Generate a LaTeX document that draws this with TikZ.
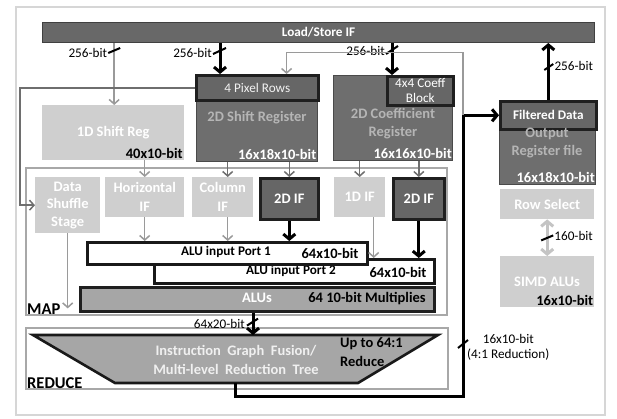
\documentclass[tikz,border=0pt]{standalone}
\usepackage{fontspec}
\setmainfont{Carlito}
\usetikzlibrary{arrows.meta,calc}
\definecolor{darkC}{HTML}{6E6E6E}
\definecolor{darkE}{HTML}{4A4A4A}
\definecolor{hotC}{HTML}{666666}
\definecolor{liteC}{HTML}{CFCFCF}
\definecolor{aluC}{HTML}{A6A6A6}
\definecolor{grpC}{HTML}{A8A8A8}
\definecolor{frameC}{HTML}{D6D6D6}
\definecolor{dimT}{HTML}{B5B5B5}
\definecolor{arrC}{HTML}{9A9A9A}
\definecolor{arrD}{HTML}{6E6E6E}
\definecolor{dblC}{HTML}{C4C4C4}
\newcommand\mkbox[6]{\node[#6, anchor=north west, inner sep=0pt, minimum width={#4pt-#2pt}, minimum height={#5pt-#3pt}] (#1) at (#2,#3) {};}
\begin{document}
\begin{tikzpicture}[x=1pt,y=-1pt,
  tb/.style={font=\bfseries\fontsize{14.5}{17.5}\selectfont, inner sep=0pt, align=center},
  tbs/.style={font=\bfseries\fontsize{13.2}{16}\selectfont, inner sep=0pt, align=center},
  tbig/.style={font=\bfseries\fontsize{16.5}{18}\selectfont, inner sep=0pt},
  tr/.style={font=\fontsize{13.2}{15}\selectfont, inner sep=0pt, align=center},
  lite/.style={fill=liteC, draw=none},
  dark/.style={fill=darkC, draw=darkE, line width=1pt},
  hot/.style={fill=hotC, draw=black!88, line width=2.6pt},
  port/.style={fill=white, draw=black!90, line width=2.6pt},
  grp/.style={draw=grpC, line width=1.5pt, fill=white},
  garr/.style={draw=arrC, line width=1.5pt, -{Straight Barb[length=4.5pt,width=10pt]}},
  darr/.style={draw=arrD, line width=1.5pt, -{Straight Barb[length=4.5pt,width=10pt]}},
  barr/.style={draw=black, line width=3pt, -{Straight Barb[length=5pt,width=12pt]}},
  bline/.style={draw=black, line width=3pt},
  gline/.style={draw=arrC, line width=1.5pt},
  dline/.style={draw=arrD, line width=1.5pt},
  slash/.style={draw=black, line width=2pt},
  dblarr/.style={draw=dblC, line width=3pt, {Straight Barb[length=5pt,width=12pt]}-{Straight Barb[length=5pt,width=12pt]}}
]
\useasboundingbox (0,0) rectangle (617,418);
% frame
\mkbox{frame}{15}{6}{604}{414}{draw=frameC, line width=2pt, fill=white}
% group boxes
\mkbox{map}{25}{167}{446}{314}{grp}
\mkbox{red}{25}{327}{447}{388}{grp}
% top bar
\mkbox{ls}{42}{22}{594}{42}{dark, fill=darkC!95!black, draw=black!75}
\node[tbs, text=white] (tls) at (ls.center) {Load/Store IF};
% 1D shift reg
\mkbox{sr1d}{42}{105}{184}{160}{lite}
\node[tb, text=white] (t1d) at (sr1d.center) {1D Shift Reg};
\node[tb, anchor=south east] (l1d) at ([xshift=-1.5pt,yshift=2pt]sr1d.south east) {40x10-bit};
% 2D shift register
\mkbox{sr2d}{196}{75}{317}{161}{dark}
\mkbox{prow}{195}{74}{317}{99}{hot}
\node[tr, text=white!95!black] (tprow) at (prow.center) {4 Pixel Rows};
\node[tb, text=dimT] (tsr2d) at (257,118) {2D Shift Register};
\node[tb, anchor=south east, text=white] (lsr2d) at ([xshift=-1.5pt,yshift=2pt]sr2d.south east) {16x18x10-bit};
% 2D coefficient register
\mkbox{c2d}{333}{75}{452}{160}{dark}
\mkbox{coef}{386}{75}{452}{104}{hot}
\node[tr, text=white, font=\fontsize{13.2}{15}\selectfont] (tcoef) at (coef.center) {4x4 Coeff\\Block};
\node[tb, text=dimT] (tc2d) at (393,123.5) {2D Coefficient\\Register};
\node[tb, anchor=south east, text=white] (lc2d) at ([xshift=-1pt,yshift=2pt]c2d.south east) {16x16x10-bit};
% output register file
\mkbox{outr}{499}{100}{595}{184}{dark}
\mkbox{fd}{499}{100}{595}{128}{hot}
\node[tbs, text=white] (tfd) at (fd.center) {Filtered Data};
\node[tb, text=dimT] (tout) at (547,143) {Output\\Register file};
\node[tb, anchor=south east, text=white] (lout) at ([xshift=-1pt,yshift=2pt]outr.south east) {16x18x10-bit};
% row select / simd
\mkbox{rowsel}{500}{189}{594}{219}{lite}
\node[tb, text=white] (trow) at (rowsel.center) {Row Select};
\mkbox{simd}{500}{256}{594}{307}{lite}
\node[tb, text=white] (tsimd) at (547,282) {SIMD ALUs};
\node[tb, anchor=south east] (lsimd) at ([xshift=-1pt,yshift=2pt]simd.south east) {16x10-bit};
% map contents
\mkbox{dss}{35}{177}{100}{233}{lite}
\node[tb, text=white] (tdss) at (dss.center) {Data\\Shuffle\\Stage};
\mkbox{hif}{105}{177}{184}{217}{lite}
\node[tb, text=white, font=\bfseries\fontsize{14.5}{19}\selectfont] (thif) at (hif.center) {Horizontal\\IF};
\mkbox{cif}{192}{177}{253}{217}{lite}
\node[tb, text=white, font=\bfseries\fontsize{14.5}{19}\selectfont] (tcif) at (cif.center) {Column\\IF};
\mkbox{if2a}{259}{177}{317}{218}{hot}
\node[tb, text=white] (tif2a) at (if2a.center) {2D IF};
\mkbox{if1d}{334}{177}{385}{217}{lite}
\node[tb, text=white] (tif1d) at (if1d.center) {1D IF};
\mkbox{if2b}{392}{177}{443}{218}{hot}
\node[tb, text=white] (tif2b) at (if2b.center) {2D IF};
\mkbox{port2}{153}{258}{433}{282}{port}
\node[tbs] (tp2) at (291,271) {ALU input Port 2};
\node[tb] (lp2) at (398,272) {64x10-bit};
\mkbox{port1}{86}{241}{366}{263}{port}
\node[tbs] (tp1) at (226,252) {ALU input Port 1};
\node[tb] (lp1) at (330,253) {64x10-bit};
\mkbox{alus}{79}{286}{433}{310}{hot, fill=aluC}
\node[tb, text=white] (talu) at (257,298) {ALUs};
\node[tb] (lalu) at (367,299) {64 10-bit Multiplies};
\node[tbig, anchor=south west] (tmap) at ([xshift=2pt,yshift=1pt]map.south west) {MAP};
% reduce
\draw[fill=aluC, draw=black!90, line width=2.6pt] (33,335) -- (438,335) -- (358,383) -- (115,383) -- cycle;
\coordinate (trapT) at (253,335);
\coordinate (trapB) at (235,383);
\node[tb, text=white!94!black, font=\bfseries\fontsize{14.5}{19}\selectfont] (ttrap) at (236,359.5) {Instruction\ \ Graph\ \ Fusion/\\Multi-level\ \ Reduction\ \ Tree};
\node[tb, anchor=west, align=left, font=\bfseries\fontsize{14.5}{19}\selectfont] (tup) at (340,352.5) {Up to 64:1\\Reduce};
\node[tbig, anchor=south west] (tred) at ([xshift=2pt,yshift=1pt]red.south west) {REDUCE};
% ---- connectors ----
% load/store to 1D shift reg
\draw[garr] (ls.south -| sr1d.north) ++(1,0) coordinate (a1) (a1) -- (a1 |- sr1d.north);
\draw[slash] ($(a1)+(-6,10)$) -- ($(a1)+(6,5)$);
\node[tr, anchor=east] (b1) at ($(a1)+(-7,10)$) {256-bit};
% load/store to 4 pixel rows
\coordinate (a2) at ($(prow.north west)+(25,0)$);
\draw[barr] (ls.south -| a2) -- (a2);
\draw[slash] ($(ls.south -| a2)+(-7,11)$) -- ($(ls.south -| a2)+(6,5)$);
\node[tr, anchor=east] (b2) at ($(ls.south -| a2)+(-8,10)$) {256-bit};
% load/store to coeff block
\coordinate (a3) at ($(coef.north west)+(6,0)$);
\draw[barr] (ls.south -| a3) -- (a3);
\draw[slash] ($(ls.south -| a3)+(-6,11)$) -- ($(ls.south -| a3)+(6,3)$);
\node[tr, anchor=east] (b3) at ($(ls.south -| a3)+(-7,8)$) {256-bit};
% filtered data up to load/store
\draw[barr] (fd.north) -- (fd.north |- ls.south);
\draw[slash] ($(fd.north)+(-4,-30)$) -- ($(fd.north)+(5,-36)$);
\node[tr, anchor=west] (b4) at ($(fd.north)+(6,-34)$) {256-bit};
% pixel rows feedback to data shuffle
\coordinate (c1) at ($(prow.west)+(-175,0)$);
\draw[darr] (prow.west) -- (c1) -- (c1 |- dss.west) -- (dss.west);
% reduce output to filtered data
\coordinate (r1) at ($(trapB)+(0,13)$);
\coordinate (r2) at ($(fd.west)+(-36,0)$);
\draw[bline] (trapB) -- (r1) -- (r1 -| r2) -- (r2);
\draw[barr] (r2) -- (fd.west);
\draw[slash] ($(r2 |- trapT)+(-5,13)$) -- ($(r2 |- trapT)+(5,5)$);
\node[tr, anchor=north west, align=center] (b5) at ($(r2 |- trapT)+(4,-1)$) {16x10-bit\\(4:1 Reduction)};
% feedback to pixel rows
\coordinate (f1) at ($(r2)+(0,-63)$);
\coordinate (f2) at ($(prow.north east)+(-33,0)$);
\draw[gline] (r2) -- (f1);
\draw[garr] (f1) -- (f1 -| f2) -- (f2);
% 1D shift reg to horizontal IF
\draw[garr] (sr1d.south -| hif.north) -- (hif.north);
\draw[garr] (hif.south) -- (hif.south |- port1.north);
% 2D shift reg to column IF and 2D IF
\coordinate (d1) at ($(cif.north)+(5,0)$);
\draw[darr] (sr2d.south -| d1) -- (d1);
\draw[garr] (cif.south -| d1) -- (d1 |- port1.north);
\draw[darr] (sr2d.south -| if2a.north) -- (if2a.north);
\draw[barr] (if2a.south) -- (if2a.south |- port1.north);
% 2D coeff to 1D IF and 2D IF
\draw[darr] (c2d.south -| if1d.north) -- (if1d.north);
\coordinate (d2) at ($(if1d.south)+(14,0)$);
\draw[garr] (d2) -- (d2 |- port2.north);
\draw[darr] (c2d.south -| if2b.north) -- (if2b.north);
\draw[barr] (if2b.south) -- (if2b.south |- port2.north);
% data shuffle down
\coordinate (e1) at ($(dss.south)+(0,75)$);
\draw[garr] (dss.south) -- (e1);
% ALUs to reduce tree
\draw[barr] (alus.south -| trapT) -- (trapT);
\draw[slash] ($(alus.south -| trapT)+(-6,13)$) -- ($(alus.south -| trapT)+(5,6)$);
\node[tr, anchor=east] (b6) at ($(alus.south -| trapT)+(-8,11)$) {64x20-bit};
% row select <-> simd
\draw[dblarr] (rowsel.south) -- (simd.north);
\draw[slash] ($(rowsel.south)+(-6,21)$) -- ($(rowsel.south)+(6,16)$);
\node[tr, anchor=west] (b7) at ($(rowsel.south)+(7,17)$) {160-bit};
\end{tikzpicture}
\end{document}
